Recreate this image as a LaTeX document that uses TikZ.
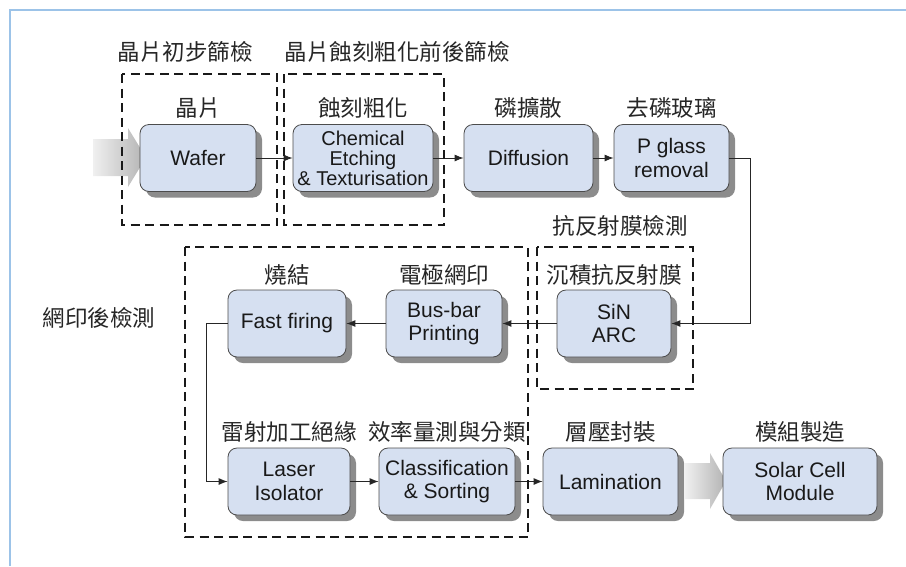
\documentclass[tikz,border=0pt]{standalone}
\usepackage{fontspec}
\setmainfont{Liberation Sans}
\newfontfamily\cjk{Noto Sans CJK TC}
\usetikzlibrary{arrows.meta,shadows,calc}
\definecolor{boxfill}{HTML}{D6E0F1}
\definecolor{frameblue}{HTML}{9CC3E8}
\begin{document}
\begin{tikzpicture}[x=1pt,y=-1pt,
 procbox/.style={draw=black!70, line width=0.8pt, fill=boxfill, rounded corners=9pt,
   minimum height=67pt, align=center, font=\fontsize{21}{23.5}\selectfont, text=black!90,
   inner sep=1pt, drop shadow={shadow xshift=6pt, shadow yshift=-6pt, fill=black!45, opacity=1}},
 lab/.style={font=\cjk\fontsize{22.5}{25}\selectfont, text=black!85, inner sep=0pt},
 flow/.style={draw=black!85, line width=0.9pt, -{Latex[length=9pt,width=7pt]}},
 grp/.style={draw=black!90, line width=2.8pt, dash pattern=on 9pt off 5.5pt},
 bigarrow/.style={left color=gray!12, right color=gray!60, draw=none}]
\useasboundingbox (0,0) rectangle (906,566);
% frame
\draw[frameblue, line width=2pt] (906,10) -- (10,10) -- (10,566);
% big gray arrows
\path[bigarrow] (93,139) -- (128,139) -- (128,128) -- (146,157.5) -- (128,187) -- (128,176) -- (93,176) -- cycle;
\path[bigarrow] (685,463) -- (710,463) -- (710,453) -- (726,481) -- (710,509) -- (710,499) -- (685,499) -- cycle;
% row 1
\node[procbox, minimum width=116pt] (wafer) at (198,158) {Wafer};
\node[procbox, minimum width=140pt, font=\fontsize{20}{20}\selectfont] (chem) at (363,158) {Chemical\\Etching\\\& Texturisation};
\node[procbox, minimum width=129pt] (diff) at (528.5,158) {Diffusion};
\node[procbox, minimum width=115pt] (pg) at (671.5,158) {P glass\\removal};
% row 2
\node[procbox, minimum width=118pt] (ff) at (287,323.5) {Fast firing};
\node[procbox, minimum width=116pt] (bb) at (444,323.5) {Bus-bar\\Printing};
\node[procbox, minimum width=114pt] (sin) at (614,323.5) {SiN\\ARC};
% row 3
\node[procbox, minimum width=122pt] (li) at (289,481.5) {Laser\\Isolator};
\node[procbox, minimum width=136pt] (cs) at (447,481.5) {Classification\\\& Sorting};
\node[procbox, minimum width=135pt] (lam) at (610.5,481.5) {Lamination};
\node[procbox, minimum width=154pt] (scm) at (800,481.5) {Solar Cell\\Module};
% connectors
\draw[flow] (wafer) -- (chem);
\draw[flow] (chem) -- (diff);
\draw[flow] (diff) -- (pg);
\draw[flow] (pg.east) -- ++(21,0) |- (sin.east);
\draw[flow] (sin) -- (bb);
\draw[flow] (bb) -- (ff);
\draw[flow] (ff.west) -- ++(-21,0) |- (li.west);
\draw[flow] (li) -- (cs);
\draw[flow] (cs) -- (lam);
% dashed groups
\draw[grp] (122,74) rectangle (277,225);
\draw[grp] (284,74) rectangle (444,225);
\draw[grp] (537,247) rectangle (693,389);
\draw[grp] (185,247) rectangle (528,537);
% box labels
\node[lab] (lwafer) at ($(wafer.north)+(0,-16)$) {晶片};
\node[lab] (lchem) at ($(chem.north)+(0,-16)$) {蝕刻粗化};
\node[lab] (ldiff) at ($(diff.north)+(0,-16)$) {磷擴散};
\node[lab] (lpg) at ($(pg.north)+(0,-16)$) {去磷玻璃};
\node[lab] (lff) at ($(ff.north)+(0,-15)$) {燒結};
\node[lab] (lbb) at ($(bb.north)+(0,-15)$) {電極網印};
\node[lab] (lsin) at ($(sin.north)+(0,-15)$) {沉積抗反射膜};
\node[lab] (lli) at ($(li.north)+(0,-16)$) {雷射加工絕緣};
\node[lab] (lcs) at ($(cs.north)+(0,-16)$) {效率量測與分類};
\node[lab] (llam) at ($(lam.north)+(0,-16)$) {層壓封裝};
\node[lab] (lscm) at ($(scm.north)+(0,-16)$) {模組製造};
% group labels
\node[lab] (g1) at (185,52) {晶片初步篩檢};
\node[lab] (g2) at (397,52) {晶片蝕刻粗化前後篩檢};
\node[lab] (g3) at (620,226) {抗反射膜檢測};
\node[lab] (g4) at (99,318) {網印後檢測};
\end{tikzpicture}
\end{document}
